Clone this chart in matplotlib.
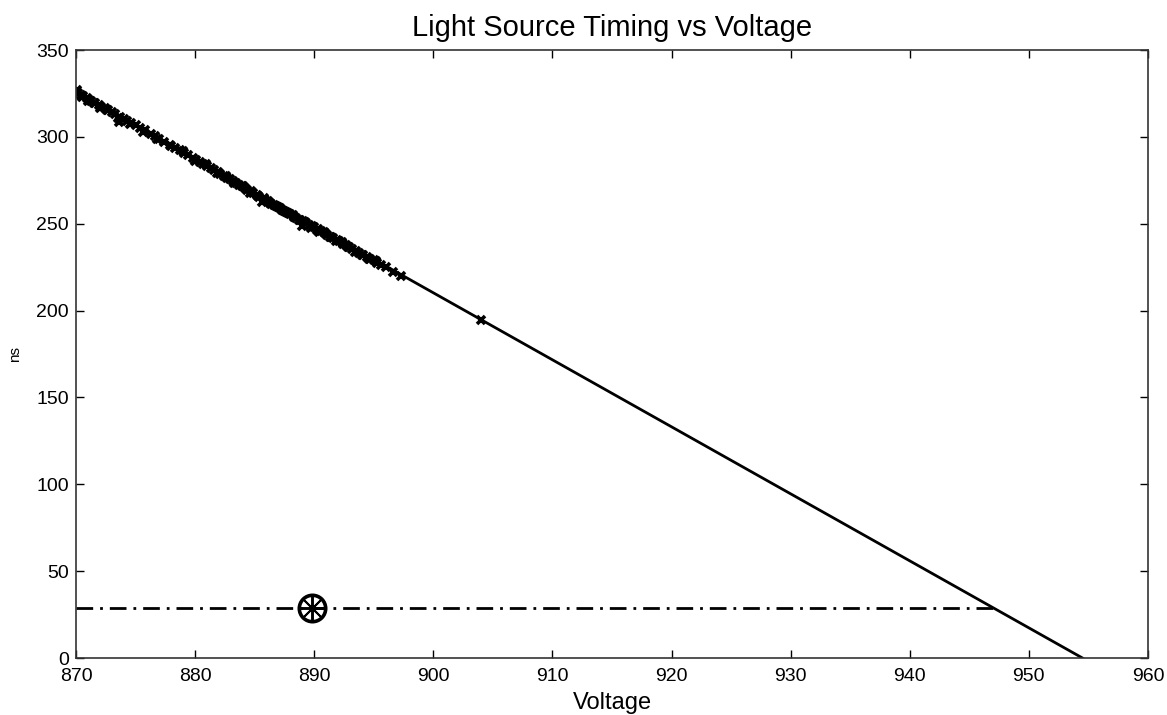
import matplotlib
matplotlib.use("Agg")
import matplotlib.pyplot as plt

plt.rcParams['font.family'] = ['Liberation Sans', 'DejaVu Sans']

# measured data (voltage, ns)
volt = [870.0, 870.2, 870.4, 870.6, 870.9, 871.1, 871.3, 871.6, 871.9, 872.1,
        872.4, 872.7, 873.0, 873.3, 873.6, 873.7, 874.0, 874.3, 874.6, 875.0,
        875.4, 875.8, 876.3, 876.6, 877.0, 877.4, 877.9, 878.3, 878.7, 879.1,
        879.4, 879.8, 880.1, 880.4, 880.7, 881.0, 881.3, 881.6, 881.9, 882.1,
        882.4, 882.7, 882.9, 883.2, 883.4, 883.7, 883.9, 884.2, 884.4, 884.7,
        884.9, 885.2, 885.4, 885.6, 885.9, 886.1, 886.3, 886.6, 886.8, 887.1,
        887.3, 887.5, 887.8, 888.0, 888.3, 888.5, 888.8, 889.0, 889.1, 889.3,
        889.6, 889.8, 890.0, 890.3, 890.4, 890.6, 890.9, 891.1, 891.4, 891.6,
        891.9, 892.1, 892.4, 892.7, 892.9, 893.2, 893.5, 893.8, 894.1, 894.4,
        894.7, 895.0, 895.3, 895.6, 896.0, 896.6, 897.3, 904.0,
        870.1, 870.5, 871.0, 871.5, 872.0, 872.6, 873.5, 874.5, 875.6, 876.8,
        878.0, 879.0, 880.0, 880.9, 881.8, 882.6, 883.3, 884.0, 884.6, 885.3,
        885.8, 886.4, 887.0, 887.6, 888.2, 888.7, 889.2, 889.7, 890.2, 890.8,
        891.3, 891.8, 892.3, 892.8, 893.4, 894.0, 894.6, 895.2]
ns = [326.0, 325.0, 324.3, 323.4, 322.5, 321.4, 320.8, 319.4, 318.5, 317.5,
      316.6, 315.2, 314.3, 313.2, 308.5, 311.6, 310.5, 309.4, 308.0, 306.6,
      305.1, 303.7, 301.6, 300.3, 298.8, 297.3, 295.3, 293.8, 292.2, 290.6,
      289.5, 287.8, 286.9, 285.6, 284.5, 283.2, 282.1, 280.8, 279.8, 278.7,
      277.7, 276.4, 275.6, 274.6, 273.7, 272.4, 271.6, 270.6, 269.5, 268.6,
      267.6, 266.5, 265.5, 262.5, 263.8, 262.9, 262.0, 260.9, 260.0, 258.9,
      258.1, 257.3, 256.1, 255.5, 254.1, 253.5, 252.4, 248.8, 251.4, 250.6,
      249.5, 248.9, 247.9, 247.0, 245.0, 245.6, 244.6, 243.8, 242.5, 241.8,
      240.6, 239.8, 238.6, 237.5, 236.7, 235.7, 234.6, 233.4, 232.2, 231.1,
      229.9, 228.9, 227.6, 226.5, 225.0, 222.5, 220.2, 194.6,
      327.0, 323.2, 320.9, 319.5, 316.9, 315.6, 310.8, 307.2, 302.6, 298.6,
      295.0, 291.6, 285.9, 284.3, 279.0, 277.5, 273.6, 271.8, 267.8, 265.9,
      264.6, 261.3, 259.5, 256.6, 254.8, 251.9, 250.8, 247.6, 246.3, 245.1,
      242.3, 239.9, 239.4, 236.6, 234.0, 231.9, 229.6, 228.4]

# fitted line endpoints
fit_volt = [870.0, 954.5]
fit_ns = [326.0, 0.0]

# reference level and operating point
ref_volt = [870.0, 947.5]
ref_ns = [28.8, 28.8]
op_volt = [889.8]
op_ns = [28.8]

fig = plt.figure(figsize=(11.67, 7.15), dpi=100)
ax = fig.add_axes([0.0651, 0.0797, 0.9186, 0.8503])

ax.plot(fit_volt, fit_ns, color='black', linewidth=2.0)
ax.plot(volt, ns, linestyle='none', marker='x', markersize=6, markeredgewidth=2.6, color='black')
ax.plot(ref_volt, ref_ns, color='black', linestyle=(0, (6, 2.5, 1, 2.5)), linewidth=2.0)
ax.plot(op_volt, op_ns, marker='o', markersize=19, markerfacecolor='none',
        markeredgecolor='black', markeredgewidth=2.6, linestyle='none')
ax.plot(op_volt, op_ns, marker=(8, 2, 0), markersize=17, markeredgecolor='black',
        markeredgewidth=1.4, linestyle='none')

ax.set_xlim(870, 960)
ax.set_ylim(0, 350)
ax.set_xticks(range(870, 961, 10))
ax.set_yticks(range(0, 351, 50))
ax.tick_params(direction='in', length=6, width=1, top=True, right=True,
               labelsize=14, colors='black')
ax.tick_params(axis='y', pad=5)
ax.tick_params(axis='x', pad=7)
for s in ax.spines.values():
    s.set_linewidth(1.2)
    s.set_color('#333333')

ax.set_title('Light Source Timing vs Voltage', fontsize=21, pad=10)
ax.set_xlabel('Voltage', fontsize=17, labelpad=5)
ax.set_ylabel('ns', fontsize=11, labelpad=10)

fig.savefig('out.png', dpi=100)
